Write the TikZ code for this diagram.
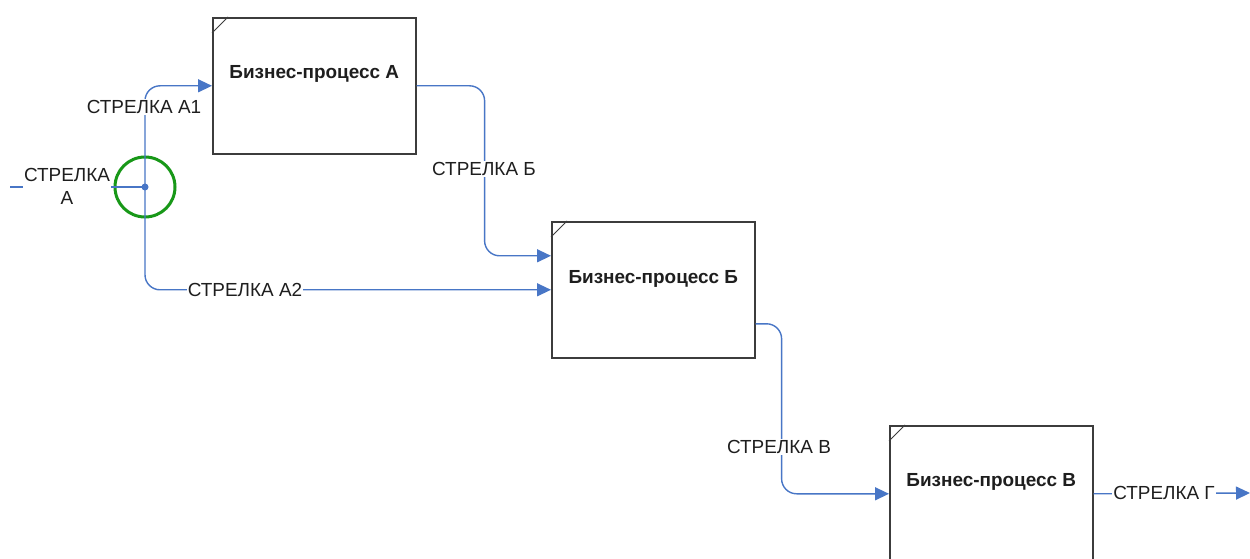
\documentclass[tikz,border=0pt]{standalone}
\usepackage{fontspec}
\setmainfont{Liberation Sans}
\usetikzlibrary{arrows.meta}
\definecolor{flow}{RGB}{72,118,198}
\definecolor{frame}{RGB}{60,60,60}
\definecolor{ring}{RGB}{24,152,24}
\definecolor{ink}{RGB}{30,30,30}

\begin{document}
\begin{tikzpicture}[x=1bp,y=-1bp,
  procbox/.style={draw=frame, line width=1.6bp, fill=white,
    minimum width=203bp, minimum height=136bp, inner sep=0pt, anchor=north west},
  ptitle/.style={font=\bfseries\fontsize{19}{21}\selectfont, text=ink, inner sep=0pt},
  cornermark/.style={draw=frame, line width=0.8bp},
  flowline/.style={draw=flow, line width=1.4bp, rounded corners=15bp},
  flowarrow/.style={flowline, -{Triangle[length=14bp,width=13bp]}},
  lbl/.style={fill=white, inner sep=1bp, text=ink,
    font=\fontsize{19}{23}\selectfont}]

\clip (0,0) rectangle (1250,559);
\fill[white] (0,0) rectangle (1250,559);

% process boxes
\node[procbox] (boxA) at (212,17) {};
\node[procbox] (boxB) at (551,221) {};
\node[procbox] (boxC) at (889,425) {};
\foreach \b in {boxA,boxB,boxC}
  \draw[cornermark] ([yshift=-16bp]\b.north west) -- ([xshift=16bp]\b.north west);

\node[ptitle] (tA) at ([yshift=12bp]boxA.center) {Бизнес-процесс А};
\node[ptitle] (tB) at ([yshift=11bp]boxB.center) {Бизнес-процесс Б};
\node[ptitle] (tC) at ([yshift=12bp]boxC.center) {Бизнес-процесс В};

% branching point of arrow A
\coordinate (j) at (145,187);
\coordinate (aStart) at (10,187);
\coordinate (gEnd) at (1250,493);
\draw[ring, line width=3bp] (j) circle (30bp);

% connectors
\draw[flowline] (aStart) -- (j);
\draw[flowarrow] (j) |- (boxA.west);
\draw[flowarrow] (j) |- (boxB.west);
\draw[flowarrow] (boxA.east) -- ++(68,0) |- ([yshift=34bp]boxB.west);
\draw[flowarrow] ([yshift=-34bp]boxB.east) -- ++(26,0) |- (boxC.west);
\draw[flowarrow] (boxC.east) -- (gEnd);
\fill[flow] (j) circle (3.5bp);

% connector labels
\node[lbl, align=center] (lA) at (67,186) {СТРЕЛКА\\А};
\node[lbl] (lA1) at (144,107) {СТРЕЛКА А1};
\node[lbl] (lA2) at (245,290) {СТРЕЛКА А2};
\node[lbl] (lB) at (484,169) {СТРЕЛКА Б};
\node[lbl] (lC) at (779,447) {СТРЕЛКА В};
\node[lbl] (lD) at (1164,493) {СТРЕЛКА Г};
\end{tikzpicture}
\end{document}
